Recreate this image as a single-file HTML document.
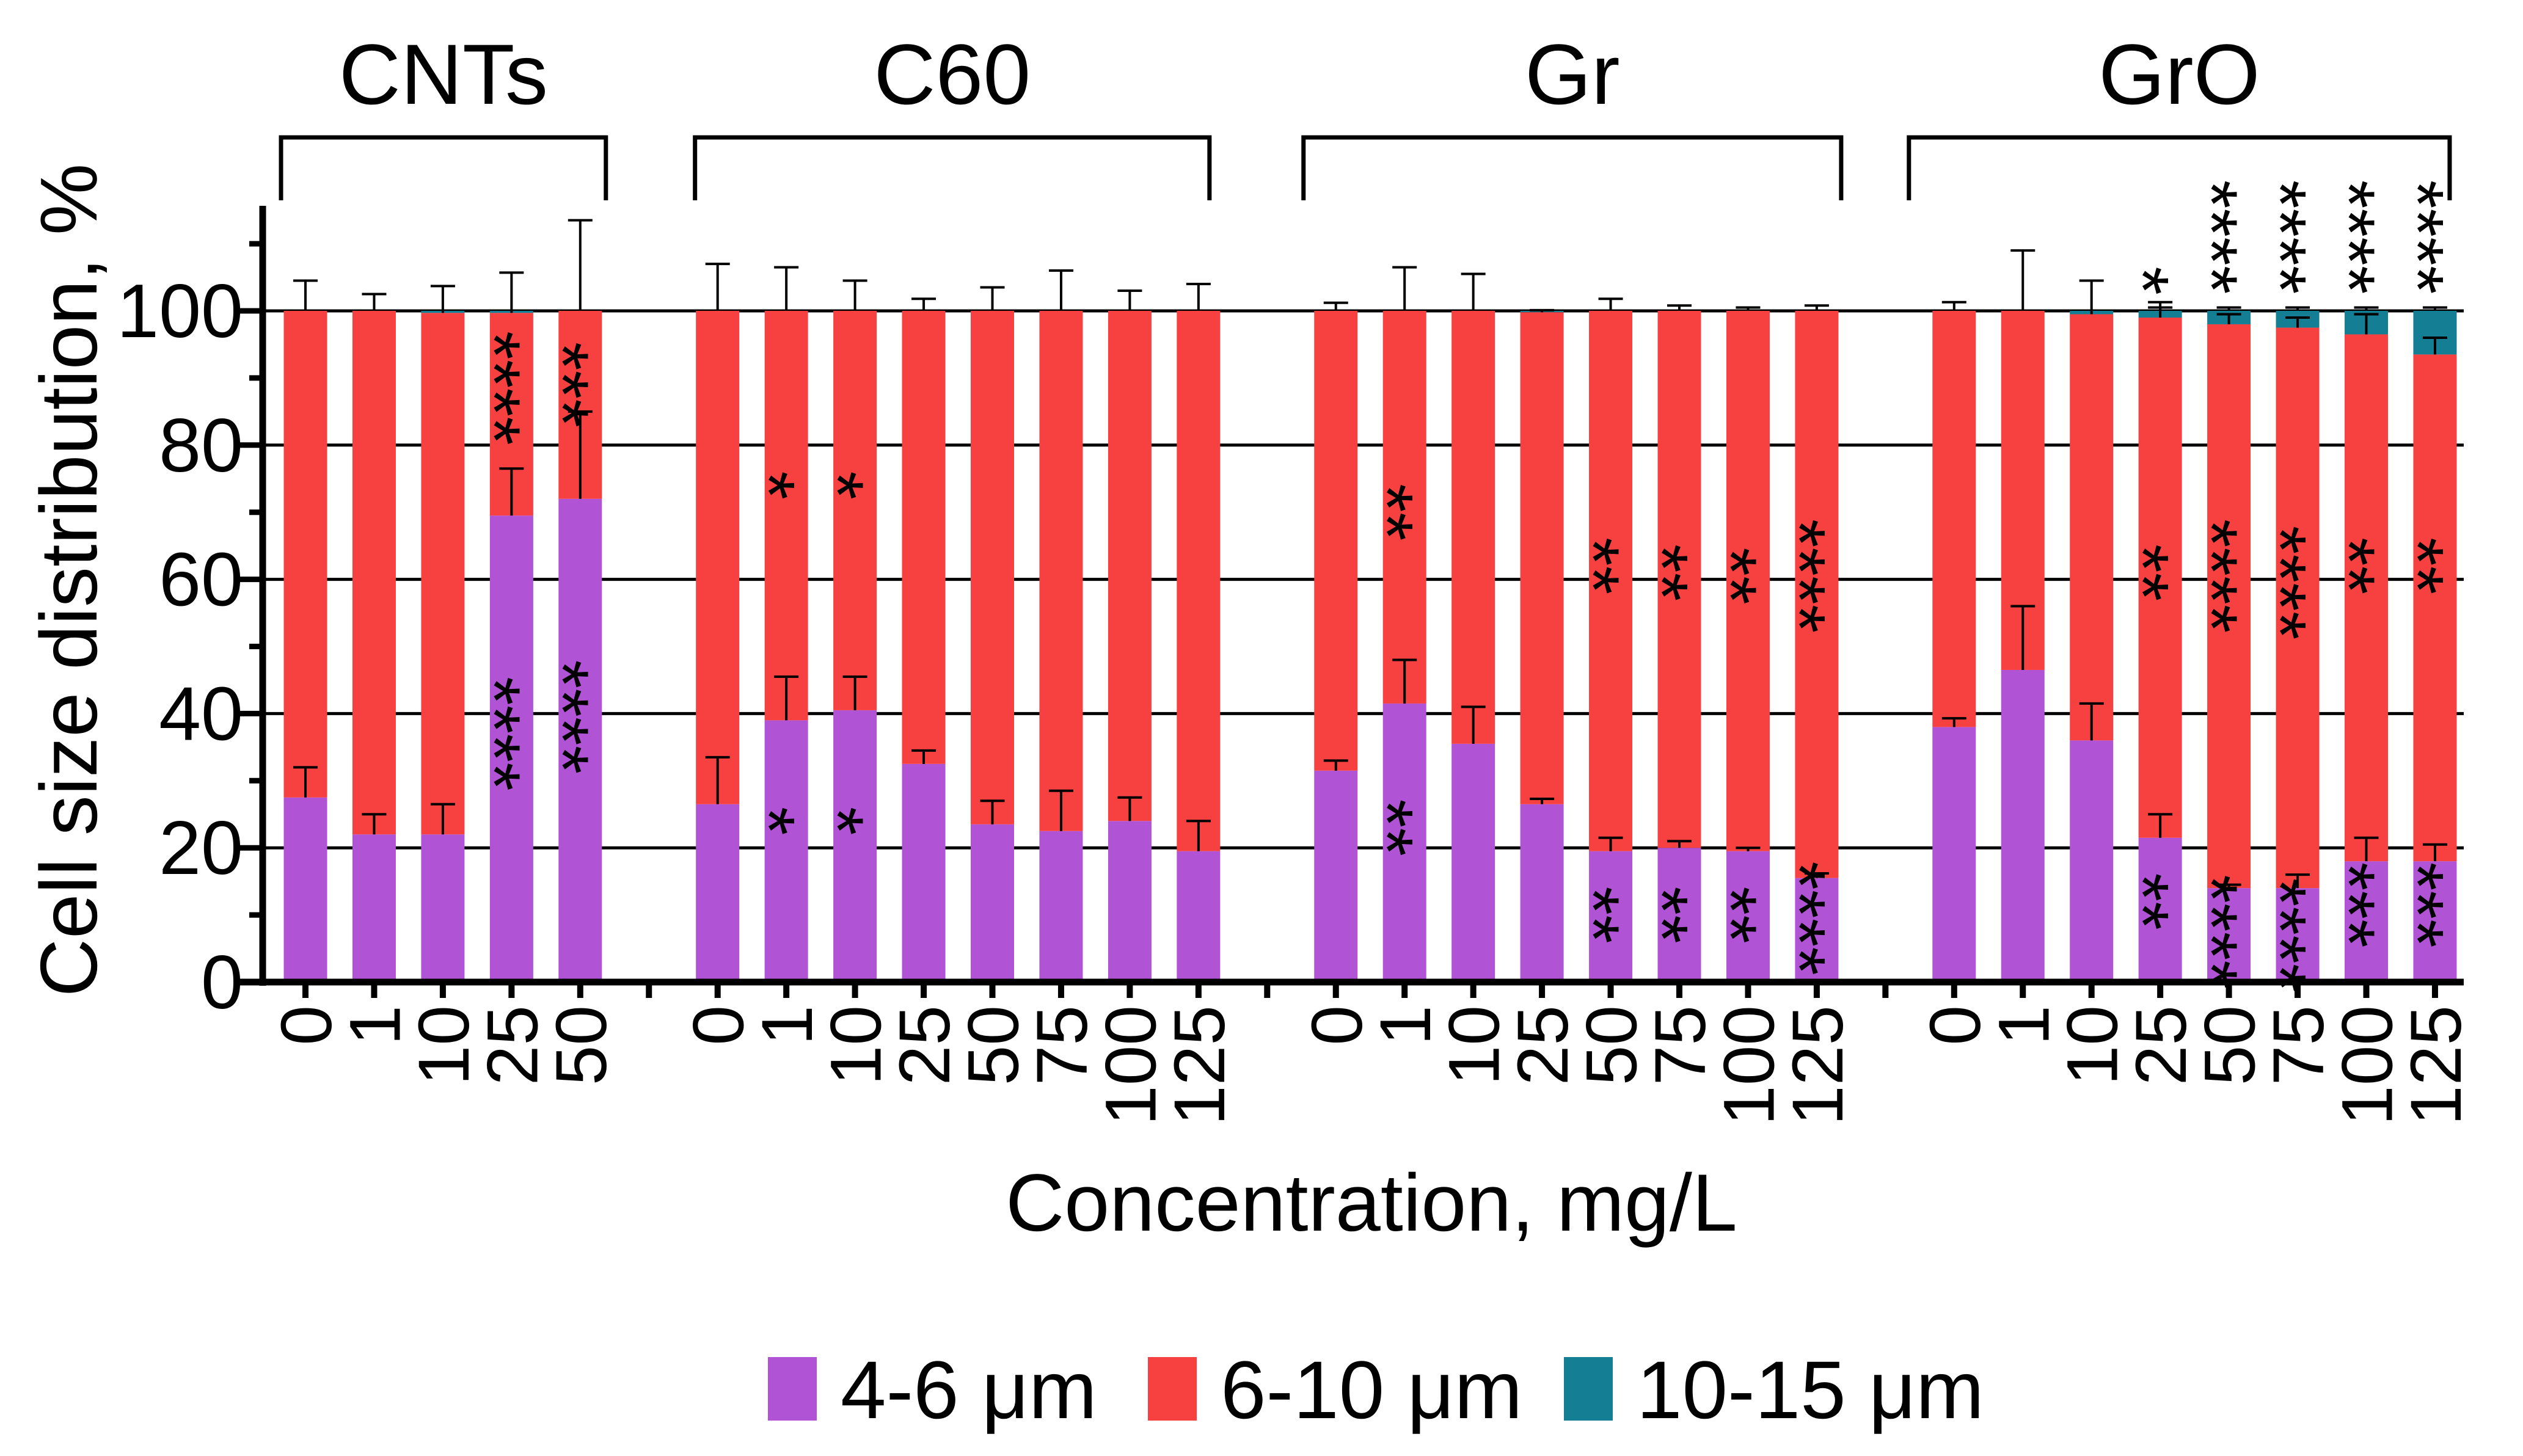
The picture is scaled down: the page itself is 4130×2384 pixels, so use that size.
<!DOCTYPE html>
<html><head><meta charset="utf-8"><style>
html,body{margin:0;padding:0;background:#fff;}
svg{display:block;font-family:"Liberation Sans",Arial,sans-serif;}
</style></head><body>
<svg id="chart" width="4130" height="2384" viewBox="0 0 4130 2384" xmlns="http://www.w3.org/2000/svg"></svg>
<script>
// ---- data ----
const groups = ["CNTs","C60","Gr","GrO"];
const concCNT = ["0","1","10","25","50"];
const concC60 = ["0","1","10","25","50","75","100","125"];
const concGr  = ["0","1","10","25","50","75","100","125"];
const concGrO = ["0","1","10","25","50","75","100","125"];
const small = [27.5,22,22,69.5,72, 26.5,39,40.5,32.5,23.5,22.5,24,19.5, 31.5,41.5,35.5,26.5,19.5,20,19.5,15.5, 38,46.5,36,21.5,14,14,18,18];
const large = [0,0,0.3,0.3,0, 0,0,0,0,0,0,0,0, 0,0,0,0.2,0,0,0,0, 0,0,0.5,1,2,2.5,3.5,6.5];
const errSmall = [4.5,3,4.5,7,13, 7,6.5,5,2,3.5,6,3.5,4.5, 1.5,6.5,5.5,0.8,2,1,0.5,0.7, 1.3,9.5,5.5,3.5,0.5,2,3.5,2.5];
const errMid = [4.5,2.5,4,6,13.5, 7,6.5,4.5,1.8,3.5,6,3,4, 1.2,6.5,5.5,0.3,1.8,0.8,0.5,0.8, 1.3,9,5,2.3,1.5,1.5,3,2.5];
const starsSmall = ["","","","****","****", "","*","*","","","","","", "","**","","","**","**","**","****", "","","","**","****","****","***","***"];
const starsSmallPos = [0,0,0,37,39.5, 0,24,24,0,0,0,0,0, 0,23,0,0,10,10,10,9.5, 0,0,0,12,7.5,7,11.5,11.5];
const starsMid = ["","","","****","***", "","*","*","","","","","", "","**","","","**","**","**","****", "","","","**","****","****","**","**"];
const starsMidPos = [0,0,0,88.5,89, 0,74,74,0,0,0,0,0, 0,70,0,0,62,61,60.5,60.5, 0,0,0,61,60.5,59.5,62,62];
const starsTop = ["","","","","", "","","","","","","","", "","","","","","","","", "","","","*","****","****","****","****"];
const starsTopPos = [0,0,0,0,0, 0,0,0,0,0,0,0,0, 0,0,0,0,0,0,0,0, 0,0,0,104.5,111,111,111,111];
const yTicks = [0,20,40,60,80,100];
const yMinor = [10,30,50,70,90,110];
const legendLabels = ["4-6 μm","6-10 μm","10-15 μm"];

// ---- layout ----
const C_S="#B053D5", C_M="#F74141", C_L="#147E95";
const svg=document.getElementById('chart');
const NS="http://www.w3.org/2000/svg";
function el(t,a,p){const e=document.createElementNS(NS,t);for(const k in a)e.setAttribute(k,a[k]);(p||svg).appendChild(e);return e;}
const Y0=1608, PX=10.99;
function y(v){return Y0-v*PX;}
const X0=500, STEP=112.45, BW=71;
const concs=[concCNT,concC60,concGr,concGrO];
const slots=[]; const groupSlots=[]; const gapSlots=[];
let s=0;
concs.forEach((c,gi)=>{const g=[];c.forEach(()=>{slots.push(s);g.push(s);s++;});groupSlots.push(g);if(gi<3){gapSlots.push(s);s++;}});
const allLabels=[].concat(concCNT,concC60,concGr,concGrO);
function xc(i){return X0+slots[i]*STEP;}
function xs(sl){return X0+sl*STEP;}
const AX=430, AXR=4033;
const bracketPadL=[40,37,53,74], bracketPadR=[42,18,40,24];

// gridlines
yTicks.slice(1).forEach(v=>{
  const g=el('line',{x1:AX,x2:AXR,y1:y(v),y2:y(v),stroke:'#000','stroke-width':5});
  
  
});

// bars
small.forEach((v,i)=>{
  const x=xc(i)-BW/2;
  const mid=100-large[i]-v;
  const r1=el('rect',{x:x,y:y(v),width:BW,height:v*PX,fill:C_S});
  
  
  const r2=el('rect',{x:x,y:y(v+mid),width:BW,height:mid*PX,fill:C_M});
  
  
  if(large[i]>0){
    const r3=el('rect',{x:x,y:y(100),width:BW,height:large[i]*PX,fill:C_L});
    
    
  }
  function eb(base,e,name){
    const cx=xc(i);
    const l=el('path',{d:`M${cx},${y(base)}V${y(base+e)}M${cx-20},${y(base+e)}H${cx+20}`,stroke:'#000','stroke-width':4,fill:'none'});
    
    
  }
  eb(v,errSmall[i],'error-bar-4-6-'+i);
  eb(v+mid,errMid[i],'error-bar-6-10-'+i);
  if(large[i]>0.9) eb(100,0.5,'error-bar-10-15-'+i);
});

// stars
function stars(txt,val,i,name){
  if(!txt) return;
  const cx=xc(i), cy=y(val), fs=120;
  const t=el('text',{x:0,y:0,'font-size':fs,'text-anchor':'middle',transform:`translate(${cx-0.58*fs},${cy}) rotate(90)`});
  t.textContent=txt;
  
  
}
small.forEach((v,i)=>{
  stars(starsSmall[i],starsSmallPos[i],i,'significance-4-6-'+i);
  stars(starsMid[i],starsMidPos[i],i,'significance-6-10-'+i);
  stars(starsTop[i],starsTopPos[i],i,'significance-10-15-'+i);
});

// axes
const ya=el('line',{x1:AX,x2:AX,y1:337,y2:Y0+6,stroke:'#000','stroke-width':11});


const xa=el('line',{x1:AX-40,x2:AXR,y1:Y0,y2:Y0,stroke:'#000','stroke-width':11});


yTicks.forEach(v=>{
  const tk=el('line',{x1:AX-40,x2:AX,y1:y(v),y2:y(v),stroke:'#000','stroke-width':9});
  
  
  const t=el('text',{x:398,y:y(v)+43,'font-size':124,'text-anchor':'end'});
  t.textContent=v;
  
  
});
yMinor.forEach(v=>{
  const tk=el('line',{x1:AX-22,x2:AX,y1:y(v),y2:y(v),stroke:'#000','stroke-width':9});
  
  
});
const yt=el('text',{x:0,y:0,'font-size':132,'text-anchor':'middle',transform:'translate(158,950) rotate(-90)'});
yt.textContent='Cell size distribution, %';



// x ticks & labels
allLabels.forEach((lab,i)=>{
  const cx=xc(i);
  const tk=el('line',{x1:cx,x2:cx,y1:Y0,y2:Y0+26,stroke:'#000','stroke-width':10});
  
  
  const t=el('text',{x:0,y:0,'font-size':118,'text-anchor':'end',transform:`translate(${cx+42},${Y0+38}) rotate(-90)`});
  t.textContent=lab;
  
  
});
gapSlots.forEach((sl,k)=>{
  const tk=el('line',{x1:xs(sl),x2:xs(sl),y1:Y0,y2:Y0+26,stroke:'#000','stroke-width':10});
  
  
});
const xt=el('text',{x:2245,y:2015,'font-size':133,'text-anchor':'middle'});
xt.textContent='Concentration, mg/L';



// group brackets
groups.forEach((g,gi)=>{
  const sl=groupSlots[gi];
  const x1=xs(sl[0])-bracketPadL[gi], x2=xs(sl[sl.length-1])+bracketPadR[gi];
  const b=el('path',{d:`M${x1},328V225H${x2}V328`,stroke:'#000','stroke-width':7,fill:'none'});
  
  
  const t=el('text',{x:(x1+x2)/2,y:170,'font-size':140,'text-anchor':'middle'});
  t.textContent=g;
  
  
});

// legend
const lx=[1257,1879,2560], cols=[C_S,C_M,C_L];
legendLabels.forEach((lab,k)=>{
  const r=el('rect',{x:lx[k],y:2222,width:80,height:104,fill:cols[k]});
  
  
  const t=el('text',{x:lx[k]+119,y:2322,'font-size':134});
  t.textContent=lab;
  
  
});
</script>
</body></html>
